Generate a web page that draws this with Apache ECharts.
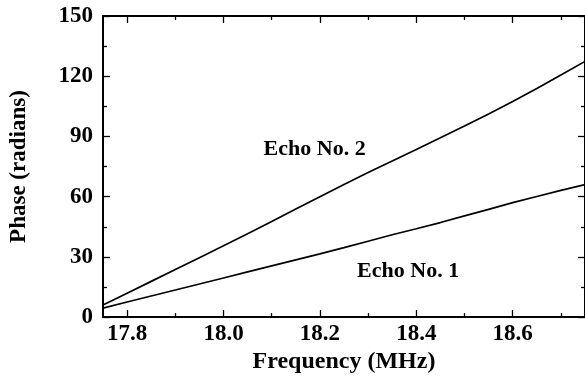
<!DOCTYPE html>
<html>
<head>
<meta charset="utf-8">
<script src="https://cdn.jsdelivr.net/npm/echarts@6/dist/echarts.min.js"></script>
<style>
  html, body { margin: 0; padding: 0; background: #fff; }
  #chart { width: 585px; height: 379px; }
</style>
</head>
<body>
<div id="chart"></div>
<script>
// Frequency sweep (MHz) and unwrapped phase of the two echoes (radians)
const freq  = [17.75, 17.80, 17.85, 17.90, 17.95, 18.00, 18.05, 18.10, 18.15, 18.20, 18.25,
               18.30, 18.35, 18.40, 18.45, 18.50, 18.55, 18.60, 18.65, 18.70, 18.75];
const echo1 = [4.5, 7.5, 10.5, 13.5, 16.5, 19.5, 22.5, 25.5, 28.5, 31.5, 34.6,
               37.8, 41, 44, 47.1, 50.4, 53.7, 57, 60.1, 63.1, 66];
const echo2 = [6, 11.9, 17.8, 23.7, 29.6, 35.5, 41.5, 47.6, 53.8, 60.0, 66.1,
               72.0, 77.8, 83.5, 89.3, 95.2, 101.2, 107.4, 113.9, 120.6, 127.4];

const xMajorTicks = [17.8, 18.0, 18.2, 18.4, 18.6];
const xMinorTicks = [17.9, 18.1, 18.3, 18.5, 18.7];
const curveNames  = ['Echo No. 1', 'Echo No. 2'];
// where each curve's caption sits, in data units [frequency, phase]
const captionAt   = [[18.383, 22.9], [18.189, 83.5]];

const FONT = 'Liberation Serif';
const INK = '#000';

const chart = echarts.init(document.getElementById('chart'), null, { renderer: 'canvas' });

function xAxisDef(pos, showLabels, ticks, tickLen, withName) {
  return {
    type: 'value',
    position: pos,
    min: 17.75,
    max: 18.75,
    name: withName ? 'Frequency (MHz)' : '',
    nameLocation: 'middle',
    nameGap: 30,
    nameTextStyle: { fontFamily: FONT, fontWeight: 'bold', fontSize: 24, color: INK },
    axisLine: { show: true, onZero: false, lineStyle: { color: INK, width: 2 } },
    axisTick: { show: true, inside: true, length: tickLen, customValues: ticks,
                lineStyle: { color: INK, width: 1.3 } },
    axisLabel: { show: showLabels, customValues: ticks, margin: 5,
                 fontFamily: FONT, fontWeight: 'bold', fontSize: 23, color: INK,
                 formatter: v => v.toFixed(1) },
    splitLine: { show: false }
  };
}

function yAxisDef(pos, showLabels, withName) {
  return {
    type: 'value',
    position: pos,
    min: 0,
    max: 150,
    interval: 30,
    name: withName ? 'Phase (radians)' : '',
    nameLocation: 'middle',
    nameGap: 72,
    nameTextStyle: { fontFamily: FONT, fontWeight: 'bold', fontSize: 23, color: INK },
    axisLine: { show: true, onZero: false, lineStyle: { color: INK, width: 2 } },
    axisTick: { show: true, inside: true, length: 7, lineStyle: { color: INK, width: 1.3 } },
    minorTick: { show: true, splitNumber: 2, length: 4, lineStyle: { color: INK, width: 1.3 } },
    axisLabel: { show: showLabels, margin: 10,
                 fontFamily: FONT, fontWeight: 'bold', fontSize: 23, color: INK },
    splitLine: { show: false }
  };
}

function curve(name, values, at) {
  return {
    name: name,
    type: 'line',
    xAxisIndex: 0,
    yAxisIndex: 0,
    data: freq.map((f, i) => [f, values[i]]),
    showSymbol: false,
    smooth: false,
    lineStyle: { color: INK, width: 1.7 },
    silent: true,
    markPoint: {
      symbol: 'circle',
      symbolSize: 1,
      itemStyle: { color: 'rgba(0,0,0,0)' },
      silent: true,
      data: [{ coord: at, value: name }],
      label: { show: true, position: 'inside', formatter: name,
               fontFamily: FONT, fontWeight: 'bold', fontSize: 22, color: INK }
    }
  };
}

chart.setOption({
  animation: false,
  backgroundColor: '#fff',
  grid: { left: 100, right: 0, top: 16, bottom: 61, containLabel: false },
  xAxis: [
    xAxisDef('bottom', true, xMajorTicks, 7, true),
    xAxisDef('bottom', false, xMinorTicks, 4, false),
    xAxisDef('top', false, xMajorTicks, 7, false),
    xAxisDef('top', false, xMinorTicks, 4, false)
  ],
  yAxis: [
    yAxisDef('left', true, true),
    yAxisDef('right', false, false)
  ],
  series: [
    curve(curveNames[0], echo1, captionAt[0]),
    curve(curveNames[1], echo2, captionAt[1])
  ]
});
</script>
</body>
</html>
